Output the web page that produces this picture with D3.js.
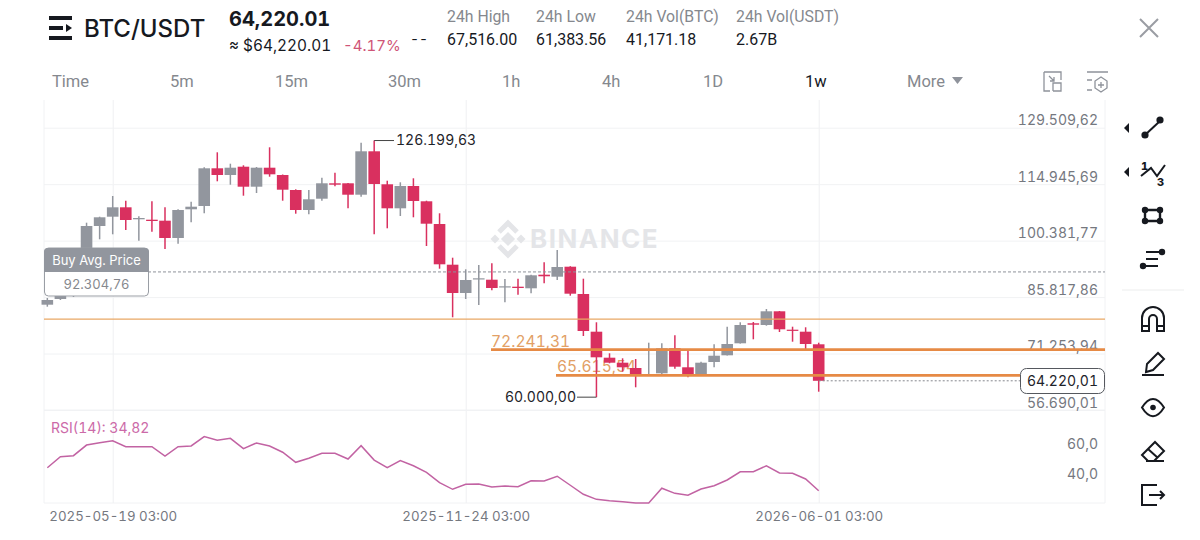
<!DOCTYPE html>
<html>
<head>
<meta charset="utf-8">
<title>BTC/USDT weekly</title>
<script src="https://cdn.jsdelivr.net/npm/d3@7"></script>
<style>
html,body{margin:0;padding:0;background:#fff;overflow:hidden}
svg{display:block}
text{font-family:Inter,Lato,sans-serif;font-variant-numeric:tabular-nums}
</style>
</head>
<body>
<svg id="c" width="1200" height="540"></svg>
<script>
// Weekly candles, oldest first
const firstWeek = "2025-04-14";
const opens  = [83853,85323,86097,91256,104153,106553,108977,105882,105778,105521,101058,108461,109312,119037,117309,119450,114291,119192,117309,113439,108280,111195,115168,115168,112227,123422,114910,108719,114471,110525,104669,94171,86871,90406,90302,88341,88496,88083,91591,91075,93655,86613,76888,70182,68892,67524,65590,66157,72606,67705,65977,69072,70801,73896,79055,78616,82150,77405,76888,73638];
const closes = [85065,86097,91256,104153,106398,108977,105701,106217,105443,101058,108280,109132,119037,117309,119192,114291,119192,117489,113517,108280,111041,115168,114807,112227,123422,114987,108719,114471,110602,104747,94274,86871,90224,90663,88160,88599,88160,91436,91178,93577,86692,77069,70284,68892,67705,65719,65977,72606,67860,65719,68892,70698,73715,78616,78694,82150,77507,77146,73715,64220.01];
const highs  = [85581,86355,91772,105005,106553,111892,110680,106656,110525,108977,108461,110422,119295,123164,120224,119811,119372,124454,117438,113620,113439,116612,117902,115245,125640,126199.63,115838,115426,116458,110680,107429,95976,92984,94093,94532,90482,90559,91565,94790,97962,93784,90559,79313,71317,70026,69846,74051,73896,75959,71987,69150,73638,78178,79313,79390,82743,82227,78178,78024,74051];
const lows   = [83337,85065,85839,90740,100723,102012,103121,100362,102683,98220,99588,105108,107429,115684,114807,111969,112666,116870,110680,107326,107171,110680,114394,108719,111711,102012,103560,106733,106398,98994,93139,80603,85323,83775,87568,84472,86432,86793,89373,90224,86174,75779,60000,68737,66571,62546,65461,65719,67344,65125,65719,67705,70723,73818,74927,78435,76811,74309,72347,61411];
const rsiValues = [50.2,57.5,58.2,65.3,66.9,68.2,64.2,64.2,64.2,58,64.2,64.7,70.9,68.5,69.8,62.9,66.7,64.7,60.5,53.8,56.5,59.8,59.8,56,64.9,55.3,50.2,54.9,51.5,47.1,40.2,35.8,39.1,39.3,37.3,38,37.5,41.5,41.3,44.5,38.5,32.5,29.1,28.2,27.5,26.7,26.7,36.5,33.1,31.8,36,38.2,42,47.5,47.5,51.5,46.7,46.5,42.7,34.82];

// Axis ticks and annotations
const priceTicks = [129509.62,114945.69,100381.77,85817.86,71253.94,56690.01];
const rsiTicks = [60,40];
const dateTicks = ["2025-05-19","2025-11-24","2026-06-01"];
const lastPrice = 64220.01;
const buyAvgPrice = 92304.76;
const allTimeHigh = 126199.63;
const periodLow = 60000;
const supportThin = 80140;
const supportUpper = 72241.31;
const supportLower = 65615.54;

// Header content
const statLabels = ["24h High","24h Low","24h Vol(BTC)","24h Vol(USDT)"];
const statValues = ["67,516.00","61,383.56","41,171.18","2.67B"];
const intervals = ["Time","5m","15m","30m","1h","4h","1D","1w","More"];

const RED = "#d9305f", GREY = "#92969e", ORANGE = "#e68a45", LABEL = "#75787f";
const svg = d3.select("#c");

const L = 44, R = 1105, TOP = 100, MID = 410, BOT = 503;
const weekMs = 7 * 864e5;
const dates = opens.map((_, i) => new Date(Date.parse(firstWeek + "T00:00:00Z") + i * weekMs));
const x = d3.scaleUtc()
  .domain([new Date(Date.parse("2025-05-19T00:00:00Z")), new Date(Date.parse("2026-06-01T00:00:00Z"))])
  .range([112.7, 818.7]);
const y = d3.scaleLinear().domain([56690.01, 129509.62]).range([410, 127.7]);
const yr = d3.scaleLinear().domain([40, 60]).range([483, 453]);
const euro = v => d3.format(",.2f")(v).replace(/[,.]/g, c => c === "," ? "." : ",");

// Panel frame
const frame = svg.append("g").attr("stroke", "#f1f2f4").attr("fill", "none");
frame.append("path").attr("d", `M${L} ${TOP}V${BOT}H${R}V${TOP}`);
frame.append("path").attr("d", `M${L} ${MID}H${R}`);

// Date axis with its guide lines
const xAxis = svg.append("g").attr("transform", `translate(0,${BOT})`)
  .call(d3.axisBottom(x)
    .tickValues(dateTicks.map(d => new Date(Date.parse(d + "T00:00:00Z"))))
    .tickSize(-(BOT - TOP))
    .tickFormat(d => d3.utcFormat("%Y-%m-%d")(d) + " 03:00"));
xAxis.select(".domain").remove();
xAxis.selectAll("line").attr("stroke", "#eff0f2");
xAxis.selectAll("text").attr("y", 13).attr("dy", "0.35em").attr("font-size", 13.3).attr("fill", LABEL)
  .style("font-family", "Inter,sans-serif");

// Price axis
const yAxis = svg.append("g").attr("transform", `translate(${R},0)`)
  .call(d3.axisLeft(y).tickValues(priceTicks).tickSize(R - L).tickFormat(euro));
yAxis.select(".domain").remove();
yAxis.selectAll("line").attr("stroke", "#f1f2f4");
yAxis.selectAll("text").attr("x", -7).attr("dy", "-0.2em").attr("font-size", 14).attr("fill", LABEL)
  .attr("text-anchor", "end");

// RSI axis
const rAxis = svg.append("g").attr("transform", `translate(${R},0)`)
  .call(d3.axisLeft(yr).tickValues(rsiTicks).tickSize(0).tickFormat(d => d3.format(".1f")(d).replace(".", ",")));
rAxis.select(".domain").remove();
rAxis.selectAll("text").attr("x", -7).attr("dy", "-0.33em").attr("font-size", 14).attr("fill", LABEL)
  .attr("text-anchor", "end");

// Watermark
const wm = svg.append("g").attr("fill", "#e4e5e8");
[[495,239,3.2],[521,239,3.2]].forEach(([cx,cy,r]) =>
  wm.append("rect").attr("x", cx-r).attr("y", cy-r).attr("width", 2*r).attr("height", 2*r)
    .attr("transform", `rotate(45 ${cx} ${cy})`));
wm.append("path").attr("fill", "none").attr("stroke", "#e4e5e8").attr("stroke-width", 5)
  .attr("d", "M499 232L508 223L517 232M499 246L508 255L517 246");
wm.append("rect").attr("x", 503).attr("y", 234).attr("width", 10).attr("height", 10)
  .attr("transform", "rotate(45 508 239)");
wm.append("text").attr("x", 530).attr("y", 248).attr("font-size", 26).attr("font-weight", 700)
  .attr("letter-spacing", 1.5).text("BINANCE");

// Level labels sit beneath the candles
svg.append("text").attr("x", 491).attr("y", y(supportUpper) - 3).attr("font-size", 15.6).attr("fill", "#e2a066").text(euro(supportUpper));
svg.append("text").attr("x", 557).attr("y", y(supportLower) - 3).attr("font-size", 15.6).attr("fill", "#e2a066").text(euro(supportLower));

// Candles
const candle = svg.append("g").selectAll("g").data(opens.map((o, i) => ({o, c: closes[i], h: highs[i], l: lows[i], d: dates[i]})))
  .join("g").attr("fill", d => d.c >= d.o ? GREY : RED).attr("stroke", d => d.c >= d.o ? GREY : RED);
candle.append("line").attr("x1", d => x(d.d)).attr("x2", d => x(d.d))
  .attr("y1", d => y(d.h)).attr("y2", d => y(d.l)).attr("stroke-width", 1.5);
candle.append("rect").attr("x", d => x(d.d) - 5.8).attr("width", 11.6)
  .attr("y", d => Math.min(y(d.o), y(d.c)))
  .attr("height", d => Math.max(1.2, Math.abs(y(d.o) - y(d.c))))
  .attr("stroke", "none");

// Drawn price levels
svg.append("line").attr("x1", L).attr("x2", R).attr("y1", y(supportThin)).attr("y2", y(supportThin))
  .attr("stroke", "#e9a765").attr("stroke-width", 1.4);
svg.append("line").attr("x1", 491).attr("x2", R).attr("y1", y(supportUpper)).attr("y2", y(supportUpper))
  .attr("stroke", ORANGE).attr("stroke-width", 2.8);
svg.append("line").attr("x1", 556).attr("x2", 1020).attr("y1", y(supportLower)).attr("y2", y(supportLower))
  .attr("stroke", ORANGE).attr("stroke-width", 2.8);

// Buy average marker
svg.append("line").attr("x1", 148).attr("x2", R).attr("y1", y(buyAvgPrice)).attr("y2", y(buyAvgPrice))
  .attr("stroke", "#8f939b").attr("stroke-dasharray", "3 2");
svg.append("rect").attr("x", 44.5).attr("y", 248).attr("width", 104).attr("height", 48).attr("rx", 4)
  .attr("fill", "#fff").attr("stroke", "#9a9ea5");
svg.append("path").attr("fill", "#92969e")
  .attr("d", "M44 272V252a4 4 0 0 1 4 -4H145a4 4 0 0 1 4 4V272Z");
svg.append("text").attr("x", 96.5).attr("y", 264.5).attr("text-anchor", "middle").attr("font-size", 13).attr("fill", "#fff").text("Buy Avg. Price");
svg.append("text").attr("x", 96.5).attr("y", 289).attr("text-anchor", "middle").attr("font-size", 13).attr("fill", "#85888e").text(euro(buyAvgPrice));

// High and low callouts
const ath = y(allTimeHigh), low = y(periodLow), lastX = x(dates[59]);
svg.append("path").attr("fill", "none").attr("stroke", "#444")
  .attr("d", `M${x(dates[25])} ${ath}H394`);
svg.append("text").attr("x", 396).attr("y", ath).attr("dy", "0.35em").attr("font-size", 14).attr("fill", "#1e2329").text(euro(allTimeHigh));
svg.append("path").attr("fill", "none").attr("stroke", "#444")
  .attr("d", `M${x(dates[42])} ${low}H577`);
svg.append("text").attr("x", 576).attr("y", low).attr("dy", "0.35em").attr("text-anchor", "end").attr("font-size", 14).attr("fill", "#1e2329").text(euro(periodLow));

// Last price tag
svg.append("line").attr("x1", lastX).attr("x2", 1020).attr("y1", y(lastPrice)).attr("y2", y(lastPrice))
  .attr("stroke", "#85888e").attr("stroke-dasharray", "2 2");
svg.append("rect").attr("x", 1020.5).attr("y", 368.5).attr("width", 84).attr("height", 25).attr("rx", 6)
  .attr("fill", "#fff").attr("stroke", "#55585e");
svg.append("text").attr("x", 1062.5).attr("y", 381).attr("dy", "0.35em").attr("text-anchor", "middle").attr("font-size", 14).attr("fill", "#1e2329").text(euro(lastPrice));

// RSI
svg.append("path").datum(rsiValues).attr("fill", "none").attr("stroke", "#c263a3").attr("stroke-width", 1.5)
  .attr("d", d3.line().x((_, i) => x(dates[i])).y(d => yr(d)));
svg.append("text").attr("x", 51).attr("y", 428).attr("dy", "0.35em").attr("font-size", 14).attr("fill", "#cc6aa8")
  .text("RSI(14): " + d3.format(".2f")(rsiValues[59]).replace(".", ","));

// Header
const ink = "#16191f";
const menu = svg.append("g").attr("fill", ink);
menu.append("rect").attr("x", 49).attr("y", 16).attr("width", 23).attr("height", 4);
menu.append("rect").attr("x", 49).attr("y", 26).attr("width", 14).attr("height", 4);
menu.append("rect").attr("x", 49).attr("y", 36).attr("width", 23).attr("height", 4);
menu.append("path").attr("d", "M66 24L72 28L66 32Z");
svg.append("text").attr("x", 84).attr("y", 37).attr("font-size", 24).attr("font-weight", 500).attr("fill", ink).text("BTC/USDT");
svg.append("text").attr("x", 229).attr("y", 26).attr("font-size", 20).attr("font-weight", 700).attr("fill", ink).text("64,220.01");
svg.append("text").attr("x", 229).attr("y", 51).attr("font-size", 15.4).attr("fill", ink).text("≈ $64,220.01");
svg.append("text").attr("x", 343).attr("y", 51).attr("font-size", 15).attr("fill", "#cf5577").text("-4.17%");
svg.append("text").attr("x", 410).attr("y", 44).attr("font-size", 14).attr("fill", ink).text("--");

const statX = [447, 536, 626, 736];
statLabels.forEach((t, i) => {
  svg.append("text").style("font-family", "Roboto,sans-serif").attr("x", statX[i]).attr("y", 22).attr("font-size", 15.8).attr("fill", "#85888e").text(t);
  svg.append("text").style("font-family", "Roboto,sans-serif").attr("x", statX[i]).attr("y", 45).attr("font-size", 16).attr("fill", ink).text(statValues[i]);
});

const tabX = [52, 170, 275, 388, 502, 602, 703, 805, 907];
intervals.forEach((t, i) => {
  svg.append("text").style("font-family", "Roboto,sans-serif").attr("x", tabX[i]).attr("y", 87).attr("font-size", 16.5)
    .attr("fill", t === "1w" ? ink : "#85888e").text(t);
});
svg.append("path").attr("d", "M952 77H963L957.5 84Z").attr("fill", "#8f939b");

// Toolbar icons
const thin = svg.append("g").attr("fill", "none").attr("stroke", "#8f939b").attr("stroke-width", 1.3);
thin.append("path").attr("d", "M1044 72H1061V80M1044 72V91H1050M1053 91H1061V83H1053V91M1049 76L1054 81M1054 77V81H1050");
thin.append("path").attr("d", "M1087 72H1108M1087 80H1092M1087 90H1092");
thin.append("path").attr("d", "M1101 77L1107 81V88L1101 92L1095 88V81ZM1098 85H1104M1101 82V88");
svg.append("path").attr("d", "M1140 19L1158 37M1158 19L1140 37").attr("stroke", "#9a9da3").attr("stroke-width", 2);

const tool = svg.append("g").attr("fill", "none").attr("stroke", ink).attr("stroke-width", 2);
const dots = svg.append("g").attr("fill", ink);
[[1127,128],[1127,172]].forEach(([a,b]) => dots.append("path").attr("d", `M${a-3} ${b}L${a+2} ${b-5}V${b+5}Z`));
tool.append("path").attr("d", "M1145 135L1160 121");
dots.append("circle").attr("cx", 1145).attr("cy", 135).attr("r", 3.6);
dots.append("circle").attr("cx", 1160).attr("cy", 120).attr("r", 3.6);
tool.append("path").attr("d", "M1141 176L1151 168L1157 176L1165 165");
svg.append("text").attr("x", 1141).attr("y", 170).attr("font-size", 11).attr("font-weight", 800).attr("fill", ink).text("1");
svg.append("text").attr("x", 1157).attr("y", 186).attr("font-size", 11).attr("font-weight", 800).attr("fill", ink).text("3");
tool.append("path").attr("stroke-width", 2.4).attr("d", "M1145 210H1160V221H1145ZM1145 210V221");
[[1145,210],[1160,210],[1145,221],[1160,221]].forEach(([a,b]) => dots.append("circle").attr("cx", a).attr("cy", b).attr("r", 3.2));
tool.append("path").attr("stroke-width", 2).attr("d", "M1146 252H1160M1146 259H1158M1146 266H1158");
dots.append("circle").attr("cx", 1162).attr("cy", 252).attr("r", 3.2);
dots.append("circle").attr("cx", 1143).attr("cy", 266).attr("r", 3.2);
svg.append("line").attr("x1", 1122).attr("x2", 1184).attr("y1", 290).attr("y2", 290).attr("stroke", "#eceded");
tool.append("path").attr("d", "M1142 331V318a11 11 0 0 1 22 0V331H1157V319a4 4 0 0 0 -8 0V331ZM1142 326H1149M1157 326H1164");
tool.append("path").attr("d", "M1146 372L1147 364L1158 353L1164 359L1153 370ZM1142 375H1164");
tool.append("path").attr("d", "M1142 407.500C1149 396 1157 396 1164 407.500C1157 419 1149 419 1142 407.500Z");
dots.append("circle").attr("cx", 1153).attr("cy", 407.5).attr("r", 2.8);
tool.append("path").attr("d", "M1142 455L1155 442L1164 451L1154 461H1148ZM1148 449L1158 458M1146 461H1164");
tool.append("path").attr("d", "M1157 485H1142V505H1157M1149 495H1164M1160 491L1164 495L1160 499");
</script>
</body>
</html>
